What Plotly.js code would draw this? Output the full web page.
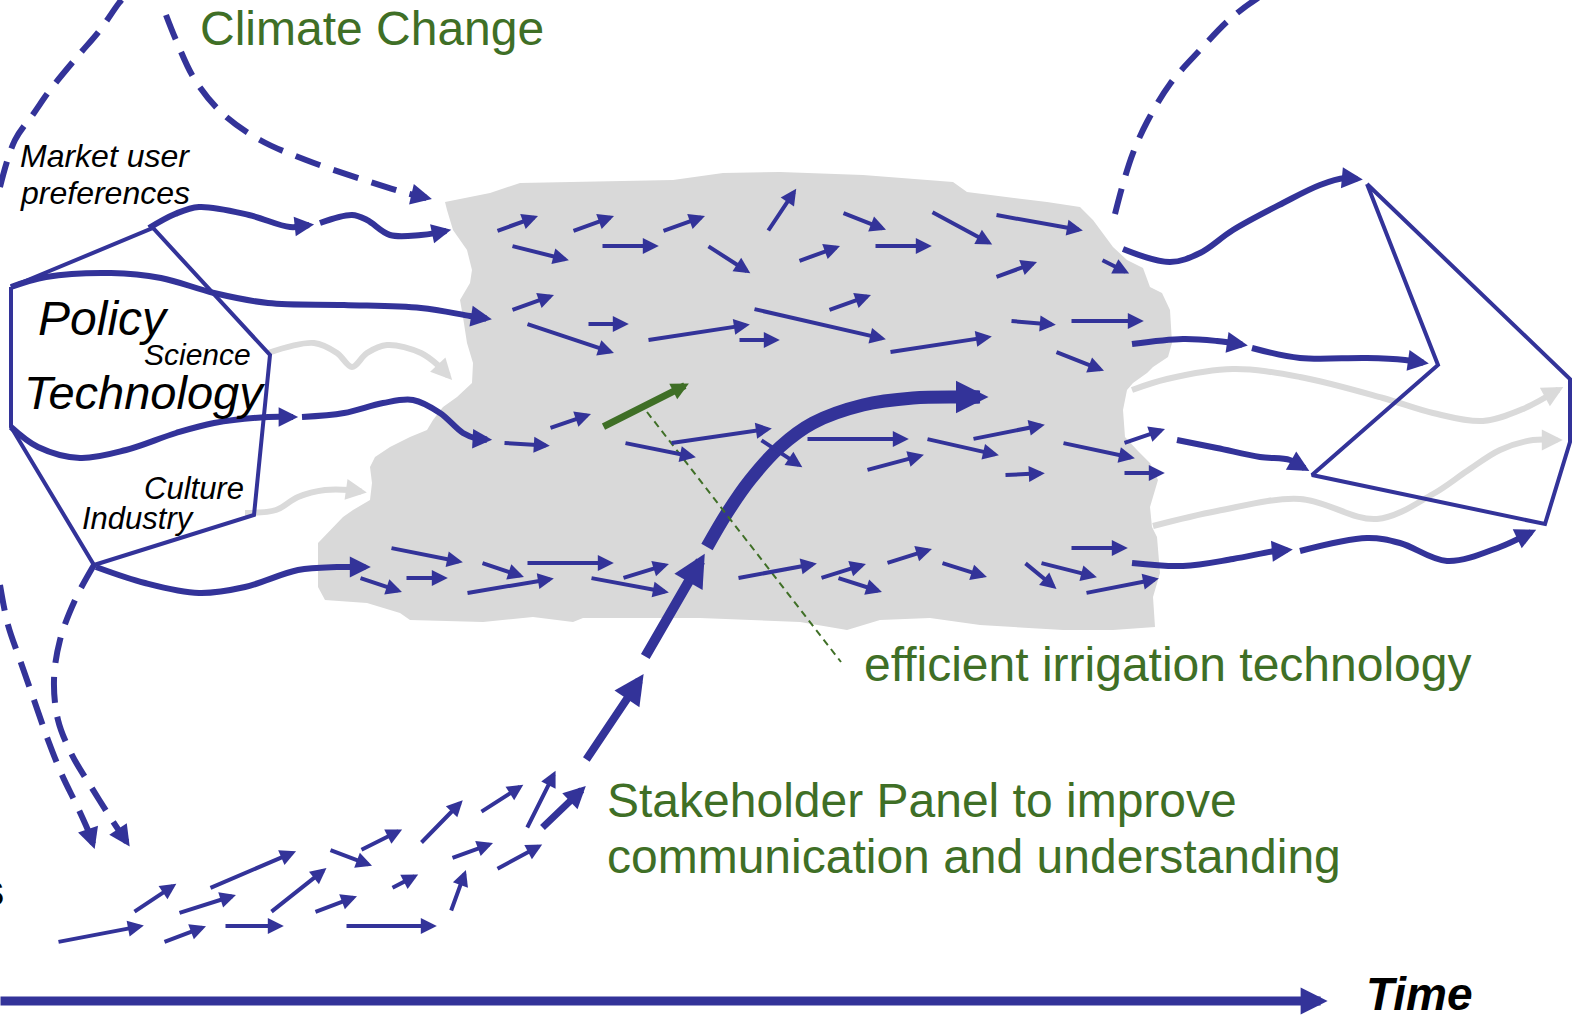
<!DOCTYPE html>
<html><head><meta charset="utf-8">
<script src="https://cdn.plot.ly/plotly-3.0.1.min.js"></script>
<style>html,body{margin:0;padding:0;background:#fff;overflow:hidden}#chart{width:1575px;height:1017px}</style>
</head><body><div id="chart"></div>
<script>
const BLUE = '#333399', GREEN = '#3F6F26', GRAY = '#D9D9D9', LGRAY = '#DADADA';
const FONT = "'Liberation Sans', Arial, sans-serif";

// grey "system" blob outline
const blobX = [445,490,520,573,673,723,780,863,953,967,1047,1080,1093,1113,1127,1143,1150,1162,1170,1172,1168,1153,1147,1133,1127,1123,1125,1137,1150,1158,1150,1152,1157,1160,1153,1155,1113,1063,1013,980,930,880,847,800,700,583,573,533,483,410,400,367,325,318,318,330,343,353,370,372,370,375,390,410,427,433,443,457,472,473,467,463,460,470,472,467,453,447,445];
const blobY = [202,193,183,182,180,173,172,175,182,192,202,207,220,247,260,268,287,293,310,343,357,367,373,383,390,410,437,450,463,480,507,527,537,573,597,627,630,630,627,625,618,620,630,622,618,618,622,617,622,620,613,603,600,587,543,530,517,510,500,483,467,457,447,437,430,420,407,397,383,363,343,317,300,283,270,250,230,210,202];

// left and right hexagons
const leftHexX = [11,153,270,254,94,11,11];
const leftHexY = [287,228,355,515,565,427,287];
const rightHexX = [1367,1570,1570,1545,1312,1438,1367];
const rightHexY = [184,379,442,524,475,365,184];

// small arrows inside the blob (tail -> tip)
const blobArrowX0 = [497,573,663,768,512,602,708,799,512,527,588,648,739,754,550,504,625,671,761,807,843,875,932,996,996,1102,829,890,1011,1071,1056,927,973,867,1063,1124,1005,1124,738,821,838,887,942,1025,1041,1071,1086,391,360,406,482,527,467,623,591];
const blobArrowY0 = [231,231,231,231,246,246,246,261,310,324,324,340,340,309,428,443,443,443,440,439,213,246,212,215,277,260,310,352,321,321,352,439,439,470,443,443,475,473,578,578,578,563,563,563,563,548,593,548,578,578,563,563,593,578,578];
const blobArrowX1 = [541,617,708,798,572,662,753,843,557,617,632,753,783,889,594,553,699,775,805,912,889,935,995,1086,1040,1132,874,995,1059,1147,1107,1002,1048,927,1138,1168,1048,1168,820,869,885,935,990,1059,1100,1131,1162,466,405,451,527,617,557,672,672];
const blobArrowY1 = [215,215,215,186,261,246,275,245,294,354,324,324,340,340,413,446,458,428,469,439,231,246,246,231,261,275,294,336,325,321,372,456,424,454,459,428,473,473,563,563,593,548,578,591,578,548,578,563,593,578,578,563,578,563,593];

// small arrows of the stakeholder trail (bottom left)
const trailArrowX0 = [58,134,164,179,210,225,271,315,330,346,361,392,421,451,452,481,497,527];
const trailArrowY0 = [942,912,942,913,888,926,912,912,850,926,850,888,843,911,858,812,869,828];
const trailArrowX1 = [147,179,209,239,299,287,329,360,375,440,405,421,465,467,496,526,545,557];
const trailArrowY1 = [925,882,925,894,850,926,866,895,867,926,828,873,798,867,842,783,843,768];

// thick stakeholder arrows (straight segments)
const stakeX0 = [542,586,645], stakeY0 = [828,760,657];
const stakeX1 = [589,647,708], stakeY1 = [783,669,548];
const stakeW = [7,8,10];

// green technology arrow and its leader line
const techArrowX = [603,692], techArrowY = [427,382];
const leaderX = [647,841], leaderY = [412,662];

// time axis
const timeX = [0,1333], timeY = [1001,1001];

// flows (curves), tip is last point
const mktAX = [149,175,199,249,290,318], mktAY = [228,214,207,215,227,224];
const mktBX = [320,352,367,390,421,436,455], mktBY = [223,215,220,235,235,233,229];
const polX = [11,46,111,161,214,268,344,421,470,496], polY = [287,277,273,278,293,303,305,308,316,320];
const techAX = [11,38,80,126,176,214,268,302], techAY = [427,447,458,450,433,423,417,417];
const techBX = [302,344,383,413,440,463,478,496], techBY = [417,413,403,400,413,433,439,440];
const indX = [96,145,199,245,298,337,352,375], indY = [567,583,593,587,570,567,567,567];
const sciX = [268,314,337,352,367,387,421,440,455], sciY = [353,343,353,367,353,345,353,367,383];
const culX = [245,276,298,325,350,371], culY = [513,510,497,490,490,493];
const outAX = [1123,1170,1200,1233,1283,1320,1345,1367], outAY = [249,262,253,230,203,185,178,180];
const outBX = [1132,1183,1217,1252], outBY = [344,339,341,346];
const outCX = [1252,1300,1367,1405,1433], outCY = [348,358,358,360,364];
const outDX = [1177,1217,1260,1290,1313], outDY = [440,448,457,460,473];
const outEX = [1132,1183,1233,1275,1297], outEY = [563,566,559,551,549];
const outFX = [1300,1367,1400,1447,1500,1540], outFY = [551,538,543,561,547,528];
const outGX = [1132,1167,1233,1300,1383,1433,1483,1523,1567], outGY = [390,379,369,377,398,413,421,409,385];
const outHX = [1153,1217,1300,1377,1433,1467,1500,1533,1567], outHY = [526,511,499,519,494,471,450,440,440];
const stakeCurveX = [707,727,750,780,813,863,913,960,995], stakeCurveY = [547,513,480,447,423,405,398,397,397];
// dashed drivers
const dashAX = [0,15,34,50,77,100,119,130], dashAY = [187,140,113,90,57,30,3,-10];
const dashBX = [166,176,195,222,260,306,364,406,436], dashBY = [15,40,80,113,140,160,180,193,200];
const dashCX = [0,8,20,34,48,62,78,90,96], dashCY = [585,625,660,700,740,775,808,835,853];
const dashDX = [94,75,60,54,58,72,90,112,132], dashDY = [565,600,640,680,720,755,785,820,850];
const dashEX = [1115,1123,1133,1147,1170,1200,1230,1258,1280], dashEY = [214,184,153,122,84,50,19,-2,-14];

const traces = [];
const annotations = [];

function arrowAnn(x0, y0, x1, y1, color, width, size) {
  const s = width * size;
  return {x: x1, y: y1, ax: x0, ay: y0, xref: 'x', yref: 'y', axref: 'x', ayref: 'y',
    text: '', showarrow: true, arrowhead: 2, arrowsize: size, arrowwidth: width,
    arrowcolor: color, standoff: s, font: {size: 1}, borderpad: 0};
}

// blob
traces.push({x: blobX, y: blobY, mode: 'lines', fill: 'toself', fillcolor: GRAY,
  line: {width: 0, color: GRAY}, hoverinfo: 'skip'});

const curveSpecs = [
  {x: sciX, y: sciY, color: LGRAY, width: 6, head: 0.7},
  {x: culX, y: culY, color: LGRAY, width: 6, head: 0.7},
  {x: outGX, y: outGY, color: LGRAY, width: 6, head: 0.7},
  {x: outHX, y: outHY, color: LGRAY, width: 6, head: 0.7},
  {x: mktAX, y: mktAY, color: BLUE, width: 6, head: 0.65},
  {x: mktBX, y: mktBY, color: BLUE, width: 6, head: 0.65},
  {x: polX, y: polY, color: BLUE, width: 6, head: 0.7},
  {x: techAX, y: techAY, color: BLUE, width: 6, head: 0.65},
  {x: techBX, y: techBY, color: BLUE, width: 6, head: 0.65},
  {x: indX, y: indY, color: BLUE, width: 6, head: 0.7},
  {x: outAX, y: outAY, color: BLUE, width: 6, head: 0.7},
  {x: outBX, y: outBY, color: BLUE, width: 6, head: 0.7},
  {x: outCX, y: outCY, color: BLUE, width: 6, head: 0.7},
  {x: outDX, y: outDY, color: BLUE, width: 6, head: 0.7},
  {x: outEX, y: outEY, color: BLUE, width: 6, head: 0.7},
  {x: outFX, y: outFY, color: BLUE, width: 6, head: 0.7},
  {x: dashAX, y: dashAY, color: BLUE, width: 6, head: 0, dash: '26px,14px'},
  {x: dashBX, y: dashBY, color: BLUE, width: 6, head: 0.7, dash: '26px,14px'},
  {x: dashCX, y: dashCY, color: BLUE, width: 6, head: 0.7, dash: '26px,14px'},
  {x: dashDX, y: dashDY, color: BLUE, width: 6, head: 0.7, dash: '26px,14px'},
  {x: dashEX, y: dashEY, color: BLUE, width: 6, head: 0.7, dash: '26px,14px'},
  {x: stakeCurveX, y: stakeCurveY, color: BLUE, width: 13, head: 0.5}
];

curveSpecs.forEach(sp => {
  const n = sp.x.length;
  const xs = sp.x.slice(), ys = sp.y.slice();
  if (sp.head) {
    const tx = sp.x[n-1], ty = sp.y[n-1];
    let dx = tx - sp.x[n-2], dy = ty - sp.y[n-2];
    const d = Math.hypot(dx, dy); dx /= d; dy /= d;
    const L = 5 * sp.width * sp.head;
    xs[n-1] = tx - dx * L * 0.5; ys[n-1] = ty - dy * L * 0.5;
    annotations.push(arrowAnn(tx - dx * (L + 3), ty - dy * (L + 3), tx, ty, sp.color, sp.width, sp.head));
  }
  traces.push({x: xs, y: ys, mode: 'lines', hoverinfo: 'skip',
    line: {color: sp.color, width: sp.width, shape: 'spline', smoothing: 1, dash: sp.dash || 'solid'}});
});

// hexagons
traces.push({x: leftHexX, y: leftHexY, mode: 'lines', line: {color: BLUE, width: 4}, hoverinfo: 'skip'});
traces.push({x: rightHexX, y: rightHexY, mode: 'lines', line: {color: BLUE, width: 4}, hoverinfo: 'skip'});
// leader line
traces.push({x: leaderX, y: leaderY, mode: 'lines', line: {color: GREEN, width: 2, dash: '7px,5px'}, hoverinfo: 'skip'});

// small arrows
blobArrowX0.forEach((v, i) => annotations.push(arrowAnn(v, blobArrowY0[i], blobArrowX1[i], blobArrowY1[i], BLUE, 4, 0.8)));
trailArrowX0.forEach((v, i) => annotations.push(arrowAnn(v, trailArrowY0[i], trailArrowX1[i], trailArrowY1[i], BLUE, 4, 0.8)));
stakeX0.forEach((v, i) => annotations.push(arrowAnn(v, stakeY0[i], stakeX1[i], stakeY1[i], BLUE, stakeW[i], [0.63,0.75,0.65][i])));
annotations.push(arrowAnn(techArrowX[0], techArrowY[0], techArrowX[1], techArrowY[1], GREEN, 7, 0.5));
annotations.push(arrowAnn(timeX[0], timeY[0], timeX[1], timeY[1], BLUE, 9, 0.6));

// texts
const labelText = ['Climate Change','efficient irrigation technology','Stakeholder Panel to improve','communication and understanding',
  '<b><i>Time</i></b>','<i>Market user</i>','<i>preferences</i>','<i>Policy</i>','<i>Science</i>','<i>Technology</i>','<i>Culture</i>','<i>Industry</i>','<b>s</b>'];
const labelX = [198,862,605,605,1364,18,18,36,142,22,142,80,7];
const labelY = [28,664,800,856,994,156,193,318,354,392,488,518,890];
const labelSize = [48,48,48,48,46,32,32,48,30,47,31,31,46];
const labelColor = [GREEN,GREEN,GREEN,GREEN,'#000','#000','#000','#000','#000','#000','#000','#000','#000'];
labelText.forEach((t, i) => annotations.push({x: labelX[i], y: labelY[i], xref: 'x', yref: 'y', text: t,
  showarrow: false, xanchor: i === 12 ? 'right' : 'left', yanchor: 'middle',
  font: {family: FONT, size: labelSize[i], color: labelColor[i]}}));

const layout = {
  width: 1575, height: 1017, margin: {l: 0, r: 0, t: 0, b: 0},
  paper_bgcolor: '#fff', plot_bgcolor: '#fff', showlegend: false,
  xaxis: {range: [0, 1575], visible: false, fixedrange: true},
  yaxis: {range: [1017, 0], visible: false, fixedrange: true},
  annotations: annotations
};
Plotly.newPlot('chart', traces, layout, {staticPlot: true, displayModeBar: false});
</script></body></html>
